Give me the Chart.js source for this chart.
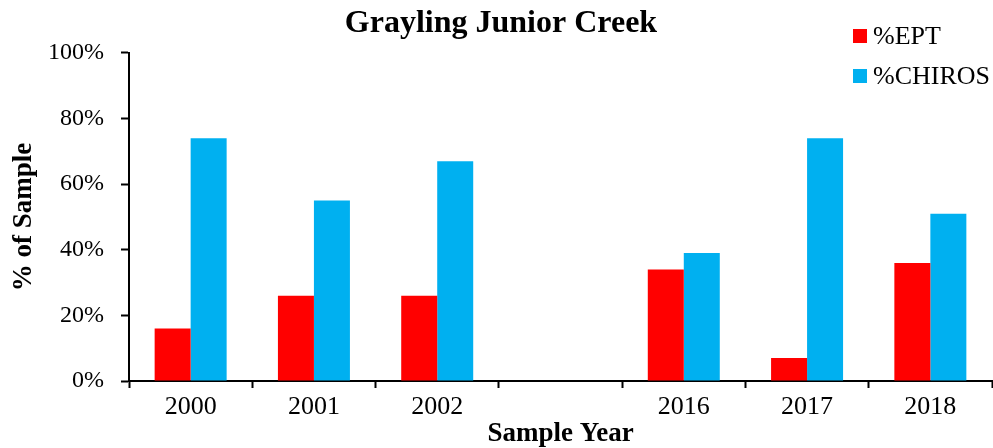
<!DOCTYPE html>
<html>
<head>
<meta charset="utf-8">
<script src="https://cdn.jsdelivr.net/npm/chart.js@4/dist/chart.umd.min.js"></script>
<style>
  html, body { margin: 0; padding: 0; background: #fff; }
  #wrap { width: 993px; height: 448px; }
</style>
</head>
<body>
<div id="wrap"><canvas id="c" width="993" height="448"></canvas></div>
<script>
// Sample years (blank slot separates the two survey periods)
const years = ['2000', '2001', '2002', '', '2016', '2017', '2018'];
// Percent of sample, by group
const eptPct = [16, 26, 26, null, 34, 7, 36];
const chirosPct = [74, 55, 67, null, 39, 74, 51];
// Y axis ticks (percent)
const yTicks = [0, 20, 40, 60, 80, 100];

const SERIF = '"Liberation Serif", "Times New Roman", serif';

// Simple stacked legend in the upper right, built from the dataset labels/colours
const sideLegend = {
  id: 'sideLegend',
  afterDraw(chart) {
    const ctx = chart.ctx;
    ctx.save();
    ctx.font = '26px ' + SERIF;
    ctx.textBaseline = 'middle';
    ctx.textAlign = 'left';
    chart.data.datasets.forEach((ds, i) => {
      const y = 36 + i * 40;
      ctx.fillStyle = ds.backgroundColor;
      ctx.fillRect(853, y - 7, 14, 14);
      ctx.fillStyle = '#000';
      ctx.fillText(ds.label, 873, y + 1);
    });
    ctx.restore();
  }
};

new Chart(document.getElementById('c'), {
  type: 'bar',
  data: {
    labels: years,
    datasets: [
      { label: '%EPT', data: eptPct, backgroundColor: '#FF0000' },
      { label: '%CHIROS', data: chirosPct, backgroundColor: '#00B0F0' }
    ]
  },
  options: {
    responsive: false,
    animation: false,
    devicePixelRatio: 1,
    layout: { padding: { left: 10, right: 1, top: 0, bottom: 0 } },
    datasets: {
      bar: { categoryPercentage: 0.584, barPercentage: 1.0 }
    },
    plugins: {
      legend: { display: false },
      tooltip: { enabled: false },
      title: {
        display: true,
        text: 'Grayling Junior Creek',
        color: '#000',
        font: { family: SERIF, size: 32, weight: 'bold', lineHeight: 1.2 },
        padding: { top: 4.5, bottom: 10 }
      }
    },
    scales: {
      x: {
        grid: {
          display: true,
          drawOnChartArea: false,
          offset: true,
          tickLength: 7,
          tickWidth: 2,
          color: '#000'
        },
        border: { display: true, color: '#000', width: 2 },
        ticks: {
          color: '#000',
          font: { family: SERIF, size: 26 },
          padding: 4,
          maxRotation: 0,
          autoSkip: false
        },
        title: {
          display: true,
          text: 'Sample Year',
          color: '#000',
          font: { family: SERIF, size: 27, weight: 'bold', lineHeight: 1 },
          padding: { top: 0, bottom: 0 }
        },
        afterFit(scale) { scale.height = 67; }
      },
      y: {
        min: 0,
        max: 100,
        afterBuildTicks(scale) { scale.ticks = yTicks.map(v => ({ value: v })); },
        grid: {
          display: true,
          drawOnChartArea: false,
          tickLength: 8,
          tickWidth: 2,
          color: '#000'
        },
        border: { display: true, color: '#000', width: 2 },
        ticks: {
          color: '#000',
          font: { family: SERIF, size: 24 },
          padding: 17,
          callback: v => v + '%'
        },
        title: {
          display: true,
          text: '% of Sample',
          color: '#000',
          font: { family: SERIF, size: 27, weight: 'bold', lineHeight: 1 },
          padding: { top: 1, bottom: 0 }
        },
        afterFit(scale) { scale.width = 119; }
      }
    }
  },
  plugins: [sideLegend]
});
</script>
</body>
</html>
